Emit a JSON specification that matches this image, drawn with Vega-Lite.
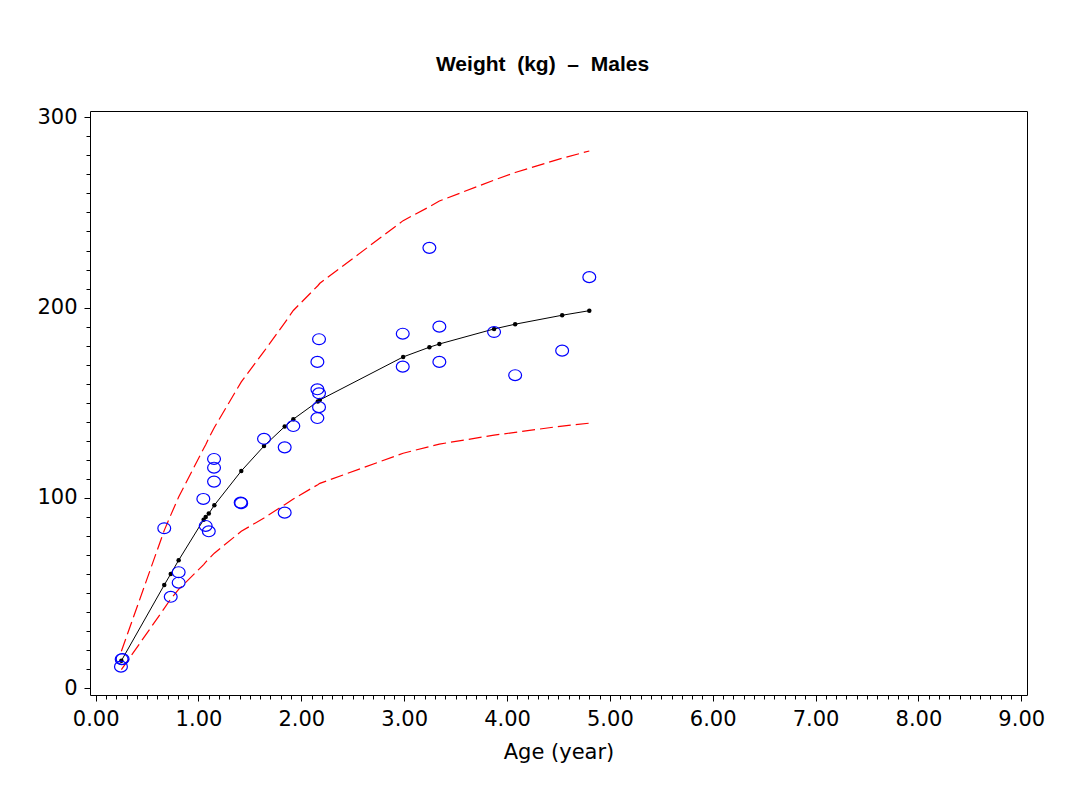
{
  "$schema": "https://vega.github.io/schema/vega-lite/v6.json",
  "width": 937,
  "height": 584,
  "autosize": {"type": "none"},
  "padding": {"left": 90, "top": 111, "right": 51, "bottom": 106},
  "background": "white",
  "config": {
    "view": {"stroke": "black", "strokeWidth": 1},
    "font": "DejaVu Sans",
    "axis": {
      "domain": false,
      "grid": false,
      "tickColor": "black",
      "tickWidth": 1,
      "labelColor": "black",
      "labelFont": "DejaVu Sans",
      "labelFontSize": 21,
      "labelOverlap": false,
      "labelFlush": false
    }
  },
  "title": {
    "text": "Weight\u00a0 (kg)\u00a0 \u2013\u00a0 Males",
    "font": "Liberation Sans Narrow, Arial Narrow, Liberation Sans",
    "fontSize": 21,
    "fontWeight": "bold",
    "color": "black",
    "anchor": "middle",
    "offset": 31,
    "dx": -16
  },
  "datasets": {
    "curve": [
      {"age": 0.25, "mean": 14.5, "lower": 9.8, "upper": 19.5},
      {"age": 0.667, "mean": 54.3, "lower": 42.0, "upper": 83.0},
      {"age": 0.73, "mean": 60.1, "lower": 47.0, "upper": 91.0},
      {"age": 0.807, "mean": 67.3, "lower": 52.0, "upper": 100.5},
      {"age": 1.05, "mean": 88.6, "lower": 65.0, "upper": 126.0},
      {"age": 1.07, "mean": 90.0, "lower": 66.3, "upper": 128.0},
      {"age": 1.10, "mean": 91.8, "lower": 68.0, "upper": 131.5},
      {"age": 1.154, "mean": 96.2, "lower": 71.0, "upper": 137.0},
      {"age": 1.416, "mean": 114.2, "lower": 82.5, "upper": 161.0},
      {"age": 1.637, "mean": 127.3, "lower": 89.5, "upper": 177.0},
      {"age": 1.838, "mean": 137.5, "lower": 96.5, "upper": 192.0},
      {"age": 1.922, "mean": 141.4, "lower": 99.5, "upper": 198.5},
      {"age": 2.16, "mean": 150.7, "lower": 107.0, "upper": 211.5},
      {"age": 2.18, "mean": 151.5, "lower": 107.7, "upper": 212.8},
      {"age": 2.99, "mean": 174.1, "lower": 123.5, "upper": 245.7},
      {"age": 3.245, "mean": 179.2, "lower": 127.0, "upper": 253.0},
      {"age": 3.342, "mean": 180.9, "lower": 128.3, "upper": 256.0},
      {"age": 3.874, "mean": 188.8, "lower": 133.0, "upper": 267.0},
      {"age": 4.079, "mean": 191.3, "lower": 134.5, "upper": 271.0},
      {"age": 4.536, "mean": 196.0, "lower": 137.8, "upper": 278.5},
      {"age": 4.80, "mean": 198.4, "lower": 139.3, "upper": 282.3}
    ],
    "obs": [
      {"age": 0.246, "weight": 11.4},
      {"age": 0.253, "weight": 15.3},
      {"age": 0.262, "weight": 15.4},
      {"age": 0.667, "weight": 84.1},
      {"age": 0.73, "weight": 48.1},
      {"age": 0.807, "weight": 61.0},
      {"age": 0.807, "weight": 55.5},
      {"age": 1.047, "weight": 99.5},
      {"age": 1.07, "weight": 85.3},
      {"age": 1.10, "weight": 82.5},
      {"age": 1.151, "weight": 120.5},
      {"age": 1.151, "weight": 115.9},
      {"age": 1.151, "weight": 108.6},
      {"age": 1.41, "weight": 97.6},
      {"age": 1.415, "weight": 97.3},
      {"age": 1.637, "weight": 131.1},
      {"age": 1.838, "weight": 126.6},
      {"age": 1.838, "weight": 92.3},
      {"age": 1.922, "weight": 137.8},
      {"age": 2.156, "weight": 171.5},
      {"age": 2.156, "weight": 157.1},
      {"age": 2.156, "weight": 142.0},
      {"age": 2.172, "weight": 183.4},
      {"age": 2.172, "weight": 155.0},
      {"age": 2.172, "weight": 147.7},
      {"age": 2.986, "weight": 186.3},
      {"age": 2.986, "weight": 169.0},
      {"age": 3.245, "weight": 231.4},
      {"age": 3.342, "weight": 190.0},
      {"age": 3.342, "weight": 171.5},
      {"age": 3.874, "weight": 187.2},
      {"age": 4.079, "weight": 164.5},
      {"age": 4.536, "weight": 177.4},
      {"age": 4.80, "weight": 216.0}
    ]
  },
  "encoding": {
    "x": {
      "field": "age",
      "type": "quantitative",
      "scale": {"domain": [-0.055, 9.056], "nice": false, "zero": false},
      "axis": {
        "title": "Age (year)",
        "titleFont": "DejaVu Sans",
        "titleFontSize": 21,
        "titleFontWeight": "normal",
        "titleColor": "black",
        "titlePadding": 12,
        "values": [0,0.1,0.2,0.3,0.4,0.5,0.6,0.7,0.8,0.9,1,1.1,1.2,1.3,1.4,1.5,1.6,1.7,1.8,1.9,2,2.1,2.2,2.3,2.4,2.5,2.6,2.7,2.8,2.9,3,3.1,3.2,3.3,3.4,3.5,3.6,3.7,3.8,3.9,4,4.1,4.2,4.3,4.4,4.5,4.6,4.7,4.8,4.9,5,5.1,5.2,5.3,5.4,5.5,5.6,5.7,5.8,5.9,6,6.1,6.2,6.3,6.4,6.5,6.6,6.7,6.8,6.9,7,7.1,7.2,7.3,7.4,7.5,7.6,7.7,7.8,7.9,8,8.1,8.2,8.3,8.4,8.5,8.6,8.7,8.8,8.9,9],
        "labelExpr": "abs(datum.value - round(datum.value)) < 0.001 ? format(datum.value, '.2f') : ''",
        "tickSize": {"condition": {"test": "abs(datum.value - round(datum.value)) < 0.001", "value": 6}, "value": 4},
        "labelPadding": 7
      }
    },
    "y": {
      "field": "val",
      "type": "quantitative",
      "scale": {"domain": [-3.5, 303.3], "nice": false, "zero": false},
      "axis": {
        "title": null,
        "values": [0,10,20,30,40,50,60,70,80,90,100,110,120,130,140,150,160,170,180,190,200,210,220,230,240,250,260,270,280,290,300],
        "labelExpr": "datum.value % 100 === 0 ? datum.value : ''",
        "tickSize": {"condition": {"test": "datum.value % 100 === 0", "value": 6}, "value": 4},
        "labelPadding": 7
      }
    }
  },
  "layer": [
    {
      "data": {"name": "curve"},
      "transform": [{"fold": ["upper", "lower"], "as": ["bound", "val"]}],
      "mark": {"type": "line", "color": "#ff0000", "strokeWidth": 1.2, "strokeDash": [13, 5]},
      "encoding": {"detail": {"field": "bound", "type": "nominal"}}
    },
    {
      "data": {"name": "curve"},
      "transform": [{"fold": ["mean"], "as": ["series", "val"]}],
      "mark": {"type": "line", "color": "black", "strokeWidth": 1},
      "encoding": {}
    },
    {
      "data": {"name": "curve"},
      "transform": [{"fold": ["mean"], "as": ["series", "val"]}],
      "mark": {"type": "point", "filled": true, "color": "black", "size": 20, "opacity": 1},
      "encoding": {}
    },
    {
      "data": {"name": "obs"},
      "transform": [{"fold": ["weight"], "as": ["series", "val"]}],
      "mark": {"type": "point", "filled": false, "shape": "M-1,0A1,0.85,0,1,1,1,0A1,0.85,0,1,1,-1,0Z", "size": 165, "stroke": "#0000ff", "strokeWidth": 1.2, "opacity": 1},
      "encoding": {}
    }
  ]
}
